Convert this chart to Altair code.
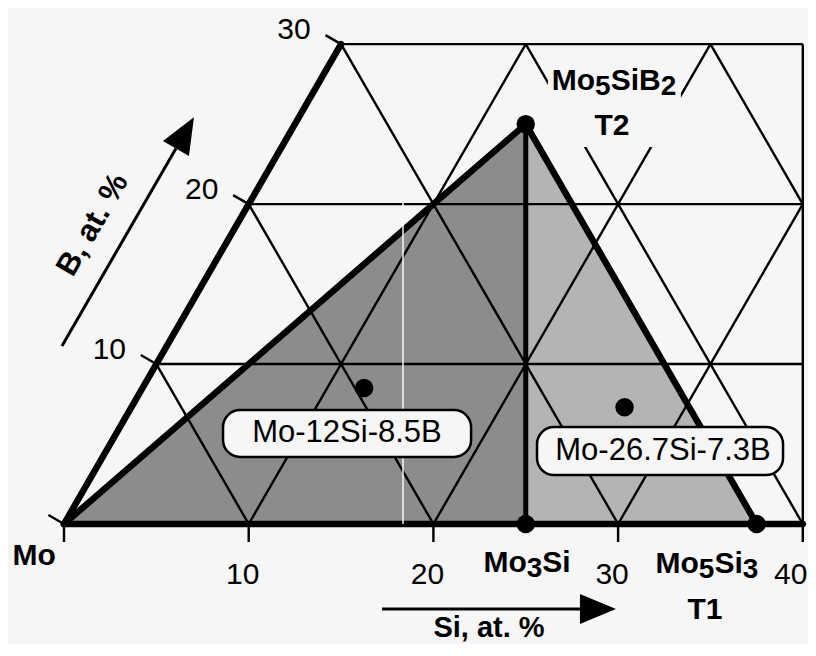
import math
import altair as alt
import pandas as pd

# ---------------- data (at.% values) ----------------
grid_b = [10, 20, 30]            # constant-B grid lines
grid_si = [10, 20, 30]           # constant-Si grid lines
grid_sum = [10, 20, 30, 40, 50]  # constant (Si+B) grid lines
si_max = 40
b_max = 30

si_ticks = [0, 10, 20, 30, 40]
si_tick_labels = ["", "10", "20", "30", "40"]
b_ticks = [0, 10, 20, 30]
b_tick_labels = ["", "10", "20", "30"]

phase_names = ["Mo3Si", "Mo5Si3", "Mo5SiB2"]
phase_si = [25.0, 37.5, 12.5]
phase_b = [0.0, 0.0, 25.0]

alloy_names = ["Mo-12Si-8.5B", "Mo-26.7Si-7.3B"]
alloy_si = [12.0, 26.7]
alloy_b = [8.5, 7.3]

# ---------------- layout ----------------
K = 18.47                      # px per at.% unit
H = math.sqrt(3) / 2.0
BG = "#f6f6f6"
FONT = "Liberation Sans"
WIDTH, HEIGHT = 800, 636
x_dom = [(8 - 64) / K, (8 + WIDTH - 64) / K]
y_dom = [(524 - 8 - HEIGHT) / K, (524 - 8) / K]
xs = alt.Scale(domain=x_dom, nice=False, zero=False)
ys = alt.Scale(domain=y_dom, nice=False, zero=False)


def tern(si, b):
    return si + b / 2.0, b * H


def X(f="x"):
    return alt.X(f"{f}:Q", scale=xs, axis=None)


def Y(f="y"):
    return alt.Y(f"{f}:Q", scale=ys, axis=None)


def seg_df(segs):
    return pd.DataFrame(segs, columns=["x", "y", "x2", "y2"])


def rules(segs, width, color="black", cap="butt"):
    return alt.Chart(seg_df(segs)).mark_rule(
        strokeWidth=width, color=color, strokeCap=cap
    ).encode(x=X(), y=Y(), x2="x2:Q", y2="y2:Q")


# grid lines
thin = []
for b in grid_b:
    x0, y0 = tern(0, b)
    thin.append((x0, y0, si_max, y0))
for s in grid_si:
    b_end = min(b_max, 2 * (si_max - s))
    x0, y0 = tern(s, 0)
    x1, y1 = tern(s, b_end)
    thin.append((x0, y0, x1, y1))
for t in grid_sum:
    if t <= si_max:
        p0 = tern(t, 0)
    else:
        b0 = 2 * (t - si_max)
        p0 = tern(t - b0, b0)
    if t <= b_max:
        p1 = tern(0, t)
    else:
        p1 = tern(t - b_max, b_max)
    thin.append((p0[0], p0[1], p1[0], p1[1]))
thin.append((si_max, 0, si_max, b_max * H))

# ticks
tk = 18 / K
ticks = []
for s in si_ticks:
    ticks.append((s, 0, s, -tk))
for b in b_ticks:
    px, py = tern(0, b)
    ticks.append((px, py, px - H * tk, py + 0.5 * tk))

# phase geometry
pts = {n: tern(s, b) for n, s, b in zip(phase_names, phase_si, phase_b)}
mo = tern(0, 0)
t2 = pts["Mo5SiB2"]
m3 = pts["Mo3Si"]
m53 = pts["Mo5Si3"]

thick = [
    (mo[0], mo[1], *tern(0, b_max)),
    (mo[0], mo[1], *tern(si_max, 0)),
    (mo[0], mo[1], t2[0], t2[1]),
    (t2[0], t2[1], m53[0], m53[1]),
]
vert = [(t2[0], t2[1], m3[0], m3[1])]

# shaded triangles (areas)
tri1 = pd.DataFrame({"x": [mo[0], t2[0]], "y": [mo[1], t2[1]], "y2": [0, 0]})
tri2 = pd.DataFrame({"x": [t2[0], m53[0]], "y": [t2[1], m53[1]], "y2": [0, 0]})

shade1 = alt.Chart(tri1).mark_area(color="#8c8c8c", opacity=1).encode(x=X(), y=Y(), y2="y2:Q")
shade2 = alt.Chart(tri2).mark_area(color="#b4b4b4", opacity=1).encode(x=X(), y=Y(), y2="y2:Q")

# scan artefact (white streak)
streak = rules([((403 - 64) / K, 0, (403 - 64) / K, (524 - 197) / K)], 1.5, color=BG)

# white mask behind the Mo5SiB2 / T2 labels
mask = alt.Chart(pd.DataFrame({"x": [26.2], "x2": [33.4], "y": [20.41], "y2": [25.12]})).mark_rect(
    color=BG
).encode(x=X(), x2="x2:Q", y=Y(), y2="y2:Q")

# dots
dot_rows = [tern(s, b) for s, b in zip(phase_si, phase_b)] + [tern(s, b) for s, b in zip(alloy_si, alloy_b)]
dots = alt.Chart(pd.DataFrame(dot_rows, columns=["x", "y"])).mark_circle(
    size=340, color="black", opacity=1
).encode(x=X(), y=Y())

# alloy label boxes
boxes_df = pd.DataFrame({
    "x": [8.61, 25.61], "x2": [22.04, 38.93],
    "y": [3.63, 2.65], "y2": [6.17, 5.25],
})
boxes = alt.Chart(boxes_df).mark_rect(
    fill=BG, stroke="black", strokeWidth=2.5, cornerRadius=17
).encode(x=X(), x2="x2:Q", y=Y(), y2="y2:Q")
box_text = alt.Chart(pd.DataFrame({
    "x": [15.32, 32.43], "y": [4.90, 3.95], "t": alloy_names
})).mark_text(font=FONT, fontSize=31, color="black", baseline="middle").encode(
    x=X(), y=Y(), text="t:N")

# arrows
si_arrow_y = (524 - 609) / K
si_shaft = rules([(17.22, si_arrow_y, 27.94, si_arrow_y)], 3)
head_path = "M -1 -0.833 L 1 0 L -1 0.833 Z"
si_head = alt.Chart(pd.DataFrame({"x": [28.91], "y": [si_arrow_y]})).mark_point(
    shape=head_path, filled=True, size=1296, color="black", opacity=1, strokeWidth=0
).encode(x=X(), y=Y())

b_start = (-0.11, 9.64)
b_len = 14.29
hl = 36 / K
dx60, dy60 = 0.5, H
b_tip = (b_start[0] + b_len * dx60, b_start[1] + b_len * dy60)
b_shaft = rules([(b_start[0], b_start[1], b_tip[0] - hl * dx60, b_tip[1] - hl * dy60)], 3)
b_head = alt.Chart(pd.DataFrame({"x": [b_tip[0] - hl / 2 * dx60], "y": [b_tip[1] - hl / 2 * dy60]})).mark_point(
    shape=head_path, filled=True, size=1296, color="black", opacity=1, strokeWidth=0, angle=300
).encode(x=X(), y=Y())

# tick labels (the last one nudged inward so it stays on the page)
si_lab_x = [s - (6 if s < si_max else 12) / K for s in si_ticks]
si_lab = alt.Chart(pd.DataFrame({"x": si_lab_x, "y": [0] * len(si_ticks), "t": si_tick_labels})).mark_text(
    font=FONT, fontSize=30, dy=51, baseline="middle", color="black"
).encode(x=X(), y=Y(), text="t:N")
b_pos = [tern(0, b) for b in b_ticks]
b_lab = alt.Chart(pd.DataFrame({"x": [p[0] for p in b_pos], "y": [p[1] for p in b_pos], "t": b_tick_labels})).mark_text(
    font=FONT, fontSize=30, dx=-47, dy=-14, baseline="middle", color="black"
).encode(x=X(), y=Y(), text="t:N")

# bold simple labels
simple = pd.DataFrame({
    "x": [-1.62, 34.70, 29.67],
    "y": [-1.73, -4.66, 21.55],
    "t": ["Mo", "T1", "T2"],
})
simple_lab = alt.Chart(simple).mark_text(
    font=FONT, fontSize=30, fontWeight="bold", baseline="middle", color="black"
).encode(x=X(), y=Y(), text="t:N")
si_title = alt.Chart(pd.DataFrame({"x": [23.01], "y": [(524 - 637) / K], "t": ["Si, at. %"]})).mark_text(
    font=FONT, fontSize=29, fontWeight="bold", baseline="alphabetic", color="black"
).encode(x=X(), y=Y(), text="t:N")
b_title = alt.Chart(pd.DataFrame({"x": [1.57], "y": [16.19], "t": ["B, at. %"]})).mark_text(
    font=FONT, fontSize=31, fontWeight="bold", baseline="middle", color="black", angle=300
).encode(x=X(), y=Y(), text="t:N")

# compound formula labels with lowered digits (Arial-metric bold widths)
W = {"M": .833, "o": .611, "S": .667, "i": .278, "B": .722}
for d in "0123456789":
    W[d] = .556
formula_pieces = {
    "Mo3Si": [("Mo", 0), ("3", 1), ("Si", 0)],
    "Mo5Si3": [("Mo", 0), ("5", 1), ("Si", 0), ("3", 1)],
    "Mo5SiB2": [("Mo", 0), ("5", 1), ("SiB", 0), ("2", 1)],
}
formula_anchor = {"Mo3Si": (25.07, -2.60), "Mo5Si3": (34.81, -2.65), "Mo5SiB2": (29.78, 23.50)}
rows = []
for name in phase_names:
    pieces = formula_pieces[name]
    sizes = [28 if low else 30 for _, low in pieces]
    widths = [sum(W[c] for c in s) * sz for (s, _), sz in zip(pieces, sizes)]
    total = sum(widths)
    ax, ay = formula_anchor[name]
    off = -total / 2
    for (s, low), sz, w in zip(pieces, sizes, widths):
        rows.append({"x": ax + off / K, "y": ay - (5 * low) / K, "t": s, "s": sz})
        off += w
formula = alt.Chart(pd.DataFrame(rows)).mark_text(
    font=FONT, fontWeight="bold", align="left", baseline="alphabetic", color="black"
).encode(x=X(), y=Y(), text="t:N", size=alt.Size("s:Q", scale=None, legend=None))

chart = alt.layer(
    shade1, shade2,
    rules(thin, 2.4),
    rules(ticks, 2.4),
    rules(thick, 6.5, cap="round"),
    rules(vert, 5),
    streak,
    mask,
    dots,
    boxes, box_text,
    si_shaft, si_head, b_shaft, b_head,
    si_lab, b_lab, simple_lab, si_title, b_title, formula,
).properties(
    width=WIDTH, height=HEIGHT, autosize="none", padding=0, background=BG
).configure_view(stroke=None)

chart.save("out.html", embed_options={"renderer": "svg", "actions": False})
